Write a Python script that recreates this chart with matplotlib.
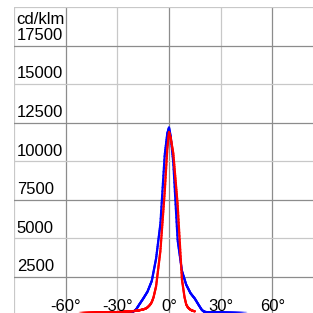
import numpy as np
import matplotlib
matplotlib.use("Agg")
import matplotlib.pyplot as plt
from matplotlib.collections import LineCollection
from matplotlib.colors import to_rgba
from matplotlib.transforms import blended_transform_factory

plt.rcParams['font.family'] = ['Liberation Sans', 'DejaVu Sans']

# luminous intensity curves (cd/klm) over angle (deg)
blue_angles = [-40, -30, -25, -22.5, -21, -20, -19, -17.5, -15, -12.5, -10, -7.5, -5,
               -2.5, -1, 0, 1, 2.5, 5, 7.5, 10, 12.5, 15, 17.5, 19, 20, 21, 22.5,
               30, 45]
blue_values = [210, 215, 220, 230, 260, 310, 420, 680, 1100, 1550, 2250, 3700, 5950,
               10400, 11800, 12200, 11600, 9900, 4900, 2900, 2000, 1450, 1100, 640,
               380, 280, 240, 220, 210, 200]

red_angles = [-52, -40, -30, -20, -17.5, -15, -13.5, -12.5, -11, -10, -9, -7.5, -5,
              -2.5, -1, 0, 1, 2.5, 5, 7.5, 9, 10, 11, 12.5, 13.5, 15]
red_values = [200, 210, 230, 300, 340, 400, 460, 530, 700, 880, 1180, 1900, 4200,
              8000, 10800, 11900, 11500, 10500, 7200, 2350, 1200, 720, 520, 380,
              320, 280]

y_ticks = [2500, 5000, 7500, 10000, 12500, 15000, 17500]
x_ticks = [-60, -30, 0, 30, 60]


def fade_line(ax, x, y, color, fade_left=0.0, fade_right=0.0):
    # densify so the fading tails look smooth
    xs = np.linspace(x[0], x[-1], 600)
    ys = np.interp(xs, x, y)
    pts = np.column_stack([xs, ys]).reshape(-1, 1, 2)
    segs = np.concatenate([pts[:-1], pts[1:]], axis=1)
    mid = (xs[:-1] + xs[1:]) / 2
    alpha = np.ones_like(mid)
    if fade_left:
        alpha = np.minimum(alpha, np.clip((mid - x[0]) / fade_left, 0.05, 1))
    if fade_right:
        alpha = np.minimum(alpha, np.clip((x[-1] - mid) / fade_right, 0.05, 1))
    cols = [to_rgba(color, a) for a in alpha]
    lc = LineCollection(segs, colors=cols, linewidths=1.6, capstyle='round',
                        joinstyle='round')
    ax.add_collection(lc)


fig = plt.figure(figsize=(3.13, 3.13), dpi=100)
ax = fig.add_axes([14 / 313, 0, 1 - 14 / 313, 1 - 7 / 313])
ax.set_xlim(-90, 83.6)
ax.set_ylim(170, 20000)
for s in ax.spines.values():
    s.set_visible(False)
ax.set_xticks([])
ax.set_yticks([])

dark, light = '#8c8c8c', '#c8c8c8'
for i, a in enumerate([-90, -60, -30, 0, 30, 60]):
    ax.axvline(a, color=light if i % 2 == 0 else dark, lw=0.9, zorder=0)
for i, v in enumerate([20000, 17500, 15000, 12500, 10000, 7500, 5000, 2500]):
    ax.axhline(v, color=light if i % 2 == 0 else dark, lw=0.9, zorder=0)

fade_line(ax, blue_angles, blue_values, '#0000ff', fade_left=15, fade_right=22)
fade_line(ax, red_angles, red_values, '#ff0000', fade_left=15, fade_right=0)

ytr = blended_transform_factory(ax.transAxes, ax.transData)
for v in y_ticks:
    ax.annotate(str(v), (0.009, v), xycoords=ytr, xytext=(0, 2),
                textcoords='offset points', ha='left', va='bottom', fontsize=12)
ax.text(0.009, 0.985, 'cd/klm', transform=ax.transAxes, ha='left', va='top',
        fontsize=12)

xtr = blended_transform_factory(ax.transData, ax.transAxes)
for a in x_ticks:
    ax.text(a, 0.008, f'{a}°', transform=xtr, ha='center', va='baseline',
            fontsize=12)

fig.savefig('out.png', dpi=100)
